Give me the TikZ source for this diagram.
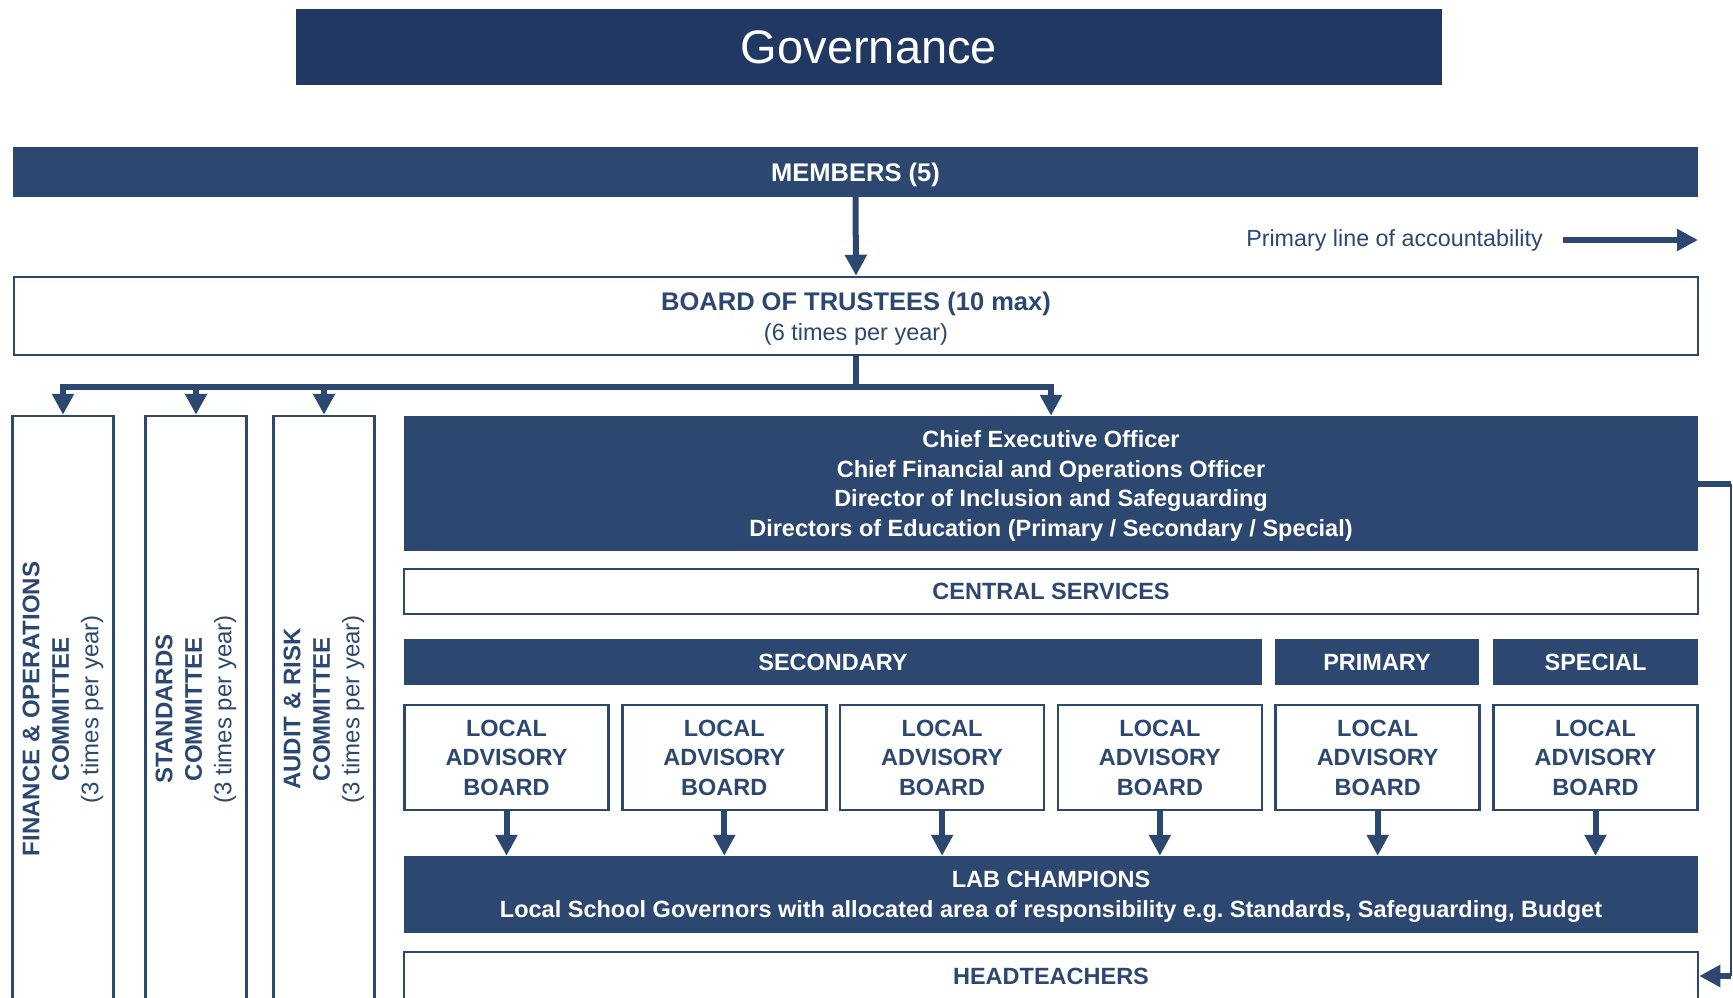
\documentclass[tikz,border=0pt]{standalone}
\usepackage{fontspec}
\setmainfont{Liberation Sans}
\usepackage{tikz}
\usetikzlibrary{calc,arrows.meta}
\frenchspacing
\definecolor{titleblue}{RGB}{33,56,98}
\definecolor{boxblue}{RGB}{44,72,112}
\tikzset{
  darkbox/.style={fill=boxblue,text=white,inner sep=0pt,text depth=0pt,align=center,font=\bfseries\fontsize{23.5}{29.5}\selectfont},
  lightbox/.style={draw=boxblue,line width=2.5pt,fill=white,text=boxblue,inner sep=0pt,text depth=0pt,align=center,font=\bfseries\fontsize{23.5}{29.5}\selectfont},
  sidebox/.style={lightbox,minimum width=101pt,minimum height=586pt,font=\bfseries\fontsize{24}{29.5}\selectfont},
  flow/.style={draw=boxblue,line width=6pt,-{Triangle[length=21pt,width=21pt]}},
  trunk/.style={draw=boxblue,line width=6pt},
  railline/.style={draw=boxblue,line width=2pt}
}
\newcommand{\cttee}[2]{\rotatebox{90}{\begin{tabular}{@{}c@{}}#1\\#2\\\mdseries(3 times per year)\end{tabular}}}

\begin{document}
\begin{tikzpicture}[x=1pt,y=-1pt]
  % drawing parameters
  \pgfmathsetmacro{\colx}{1051} % horizontal centre of the right hand column
  \pgfmathsetmacro{\colw}{1294} % width of the right hand column
  \pgfmathsetmacro{\labw}{204} % width of a local advisory board
  \pgfmathsetmacro{\labgap}{217.8} % horizontal distance in between local advisory boards
  \pgfmathsetmacro{\sidey}{709} % vertical centre of the committees

  \useasboundingbox (0,0) rectangle (1733,998);
  \clip (0,0) rectangle (1733,998);

  % title
  \node[darkbox,fill=titleblue,font=\fontsize{47}{56}\selectfont,minimum width=1146pt,minimum height=76pt] (title) at (869,47) {Governance};

  % members and trustees
  \node[darkbox,font=\bfseries\fontsize{25.5}{30}\selectfont,minimum width=1685pt,minimum height=50pt] (members) at (855.5,172) {MEMBERS (5)};
  \node[lightbox,font=\bfseries\fontsize{25.5}{30}\selectfont,minimum width=1684pt,minimum height=78pt] (board) at (856,316) {BOARD OF TRUSTEES (10 max)\\{\mdseries\fontsize{23.5}{30}\selectfont(6 times per year)}};
  \draw[flow] (members.south) -- (board.north);

  % legend
  \node[anchor=east,text=boxblue,inner sep=0pt,font=\fontsize{23.3}{27}\selectfont] (legend) at (1543,240) {Primary line of accountability};
  \coordinate (legendtip) at (1698,240);
  \draw[flow] ([xshift=20pt]legend.east) -- (legendtip);

  % committees
  \node[sidebox] (fin) at (63,\sidey) {\cttee{FINANCE \& OPERATIONS}{COMMITTEE}};
  \node[sidebox] (std) at (196,\sidey) {\cttee{STANDARDS}{COMMITTEE}};
  \node[sidebox] (audit) at (324,\sidey) {\cttee{AUDIT \& RISK}{COMMITTEE}};

  % executive team
  \node[darkbox,minimum width=\colw pt,minimum height=135pt] (ceo) at (\colx,483.5) {Chief Executive Officer\\Chief Financial and Operations Officer\\Director of Inclusion and Safeguarding\\Directors of Education (Primary / Secondary / Special)};

  % branches below the board
  \coordinate (branch) at ($(board.south)+(0,31)$);
  \draw[trunk] (board.south) -- (branch);
  \foreach \t in {fin,std,audit,ceo}
    \draw[flow] (branch) -| (\t.north);

  % central services and phases
  \node[lightbox,minimum width=\colw pt,minimum height=45pt] (central) at (\colx,591.5) {CENTRAL SERVICES};
  \node[darkbox,minimum width=858pt,minimum height=46pt] (secondary) at (833,662) {SECONDARY};
  \node[darkbox,minimum width=204pt,minimum height=46pt] (primary) at (1377,662) {PRIMARY};
  \node[darkbox,minimum width=205pt,minimum height=46pt] (special) at (1595.5,662) {SPECIAL};

  % lab champions and headteachers
  \node[darkbox,minimum width=\colw pt,minimum height=77pt] (champ) at (\colx,894.5) {LAB CHAMPIONS\\Local School Governors with allocated area of responsibility e.g. Standards, Safeguarding, Budget};
  \node[lightbox,minimum width=\colw pt,minimum height=48pt] (head) at (\colx,976) {HEADTEACHERS};

  % local advisory boards
  \foreach \i in {0,...,5}{
    \node[lightbox,minimum width=\labw pt,minimum height=105pt] (lab\i) at ({506.5+\i*\labgap},757.5) {LOCAL\\ADVISORY\\BOARD};
    \draw[flow] (lab\i.south) -- (lab\i.south |- champ.north);
  }

  % line down to the headteachers
  \coordinate (rail) at (1731,0);
  \draw[trunk] (ceo.east) -- (ceo.east -| rail);
  \draw[railline] (ceo.east -| rail) -- (head.east -| rail);
  \draw[flow] (head.east -| rail) -- (head.east);
\end{tikzpicture}
\end{document}
